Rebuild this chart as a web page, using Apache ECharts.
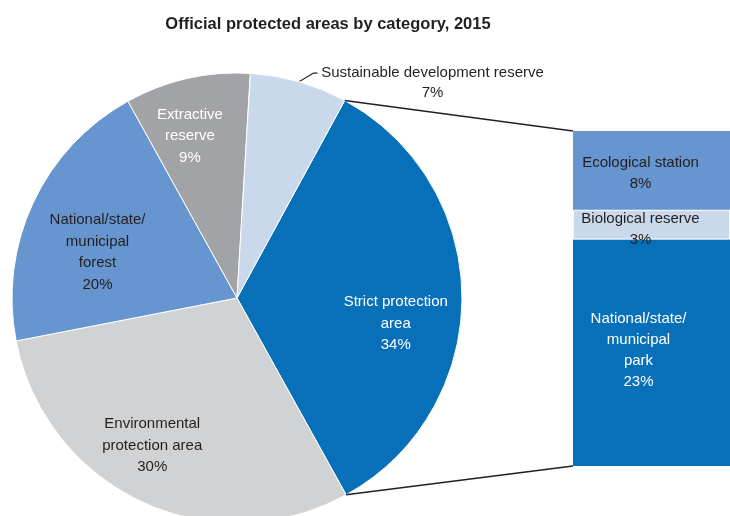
<!DOCTYPE html>
<html>
<head>
<meta charset="utf-8">
<script src="https://cdn.jsdelivr.net/npm/echarts@6/dist/echarts.min.js"></script>
<style>
  html, body { margin: 0; padding: 0; background: #fff; }
  #chart { width: 730px; height: 516px; }
</style>
</head>
<body>
<div id="chart"></div>
<script>
// Protected area categories (share of total, %)
const pieCategories = [
  'Strict protection\narea',
  'Environmental\nprotection area',
  'National/state/\nmunicipal\nforest',
  'Extractive\nreserve',
  'Sustainable development reserve'
];
const pieValues = [34, 30, 20, 9, 7];

// Breakdown of the strict protection area (%), listed from top to bottom
const barCategories = ['Ecological station', 'Biological reserve', 'National/state/\nmunicipal\npark'];
const barValues = [8, 3, 23];

const pieColors = ['#0870b9', '#d1d2d4', '#6695cf', '#a2a3a6', '#cad8ec'];
const pieTextColors = ['#ffffff', '#231f20', '#231f20', '#ffffff', '#231f20'];
const barColors = ['#6695cf', '#cad8ec', '#0870b9'];
const barTextColors = ['#231f20', '#231f20', '#ffffff'];

// fine placement of the in-slice and in-bar labels (pixels)
const pieLabelShift = [[-4, 26], [-16, 0], [8, 23], [-11, -3], [0, 0]];
const barLabelShift = [[-11, 3], [-11, 5], [-13, -2]];

const FONT = '"Liberation Sans", Arial, sans-serif';
const PIE_CENTER = [237, 298];
const PIE_R = 225;
const total = pieValues.reduce((a, b) => a + b, 0);
// first slice (Strict protection) begins this many degrees clockwise from 12 o'clock
const startFromTop = 28.6;
const START_ANGLE = 90 - startFromTop;

const chart = echarts.init(document.getElementById('chart'), null, { renderer: 'canvas' });

const pieData = pieCategories.map((name, i) => ({
  name: name,
  value: pieValues[i],
  itemStyle: { color: pieColors[i] }
}));

// Stacked bar: bottom segment first
const barSeries = barCategories.map((name, i) => ({
  type: 'bar',
  name: name,
  stack: 'strict',
  data: [barValues[i]],
  barWidth: '100%',
  itemStyle: { color: barColors[i], borderColor: '#ffffff', borderWidth: i === 1 ? 0.8 : 0 },
  label: {
    show: true,
    position: 'inside',
    offset: barLabelShift[i],
    color: barTextColors[i],
    fontFamily: FONT,
    fontSize: 15,
    lineHeight: 21,
    formatter: p => name + '\n' + p.value + '%'
  },
  z: 2
})).reverse();

const option = {
  animation: false,
  title: {
    text: 'Official protected areas by category, 2015',
    left: 323,
    textAlign: 'center',
    top: 11,
    textStyle: { fontFamily: FONT, fontSize: 16.5, fontWeight: 'bold', color: '#231f20' }
  },
  grid: { left: 573, right: 0, top: 131, bottom: 50 },
  xAxis: { type: 'category', data: ['Strict'], show: false },
  yAxis: { type: 'value', min: 0, max: barValues.reduce((a, b) => a + b, 0), show: false },
  series: [
    {
      type: 'pie',
      center: PIE_CENTER,
      radius: PIE_R,
      startAngle: START_ANGLE,
      clockwise: true,
      silent: true,
      data: pieData.map((d, i) => Object.assign({}, d, {
        label: i === 4 ? {
          show: true,
          position: 'outside',
          distanceToLabelLine: 1,
          color: '#231f20',
          fontFamily: FONT,
          fontSize: 15,
          lineHeight: 20,
          padding: [20, 0, 0, 0],
          formatter: p => '{t|' + p.name + '}\n{t|' + p.value + '%}',
          rich: { t: { width: 228, align: 'center', fontFamily: FONT, fontSize: 15, lineHeight: 20, color: '#231f20' } }
        } : { show: false },
        labelLine: i === 4 ? { show: true, length: 9, length2: 16, lineStyle: { color: '#231f20', width: 1.2 } } : { show: false }
      })),
      itemStyle: { borderColor: '#ffffff', borderWidth: 1 },
      // slanted leader: keep only a short horizontal stub before the text
      labelLayout: params => {
        const pts = params.labelLinePoints;
        if (params.dataIndex !== 4 || !pts || pts.length < 3) return {};
        return { labelLinePoints: [pts[0], [pts[2][0] - 4, pts[2][1]], pts[2]] };
      }
    },
    {
      // label carrier: transparent wedges so the inside labels sit further out
      type: 'pie',
      center: PIE_CENTER,
      radius: PIE_R * 1.42,
      startAngle: START_ANGLE,
      clockwise: true,
      silent: true,
      z: 3,
      itemStyle: { color: 'rgba(0,0,0,0)', borderWidth: 0 },
      data: pieData.map((d, i) => ({
        name: d.name,
        value: d.value,
        itemStyle: { color: 'rgba(0,0,0,0)' },
        label: i === 4 ? { show: false } : {
          show: true,
          position: 'inside',
          offset: pieLabelShift[i],
          color: pieTextColors[i],
          fontFamily: FONT,
          fontSize: 15,
          lineHeight: 21.5,
          formatter: p => p.name + '\n' + p.value + '%'
        }
      })),
      labelLine: { show: false }
    },
    ...barSeries
  ]
};

chart.setOption(option);

// Connector lines from the strict-protection wedge edges to the bar's corners
function connectors() {
  const toRad = Math.PI / 180;
  const startA = startFromTop * toRad;
  const endA = (startFromTop + pieValues[0] / total * 360) * toRad;
  const p1 = [PIE_CENTER[0] + PIE_R * Math.sin(startA), PIE_CENTER[1] - PIE_R * Math.cos(startA)];
  const p2 = [PIE_CENTER[0] + PIE_R * Math.sin(endA), PIE_CENTER[1] - PIE_R * Math.cos(endA)];
  const barSum = barValues.reduce((a, b) => a + b, 0);
  const topPx = chart.convertToPixel({ gridIndex: 0 }, ['Strict', barSum]);
  const botPx = chart.convertToPixel({ gridIndex: 0 }, ['Strict', 0]);
  const gridLeft = 573;
  chart.setOption({
    graphic: [
      { type: 'line', shape: { x1: p1[0], y1: p1[1], x2: gridLeft, y2: topPx[1] }, style: { stroke: '#231f20', lineWidth: 1.5 }, z: 10 },
      { type: 'line', shape: { x1: p2[0], y1: p2[1], x2: gridLeft, y2: botPx[1] }, style: { stroke: '#231f20', lineWidth: 1.5 }, z: 10 }
    ]
  });
}
connectors();
</script>
</body>
</html>
